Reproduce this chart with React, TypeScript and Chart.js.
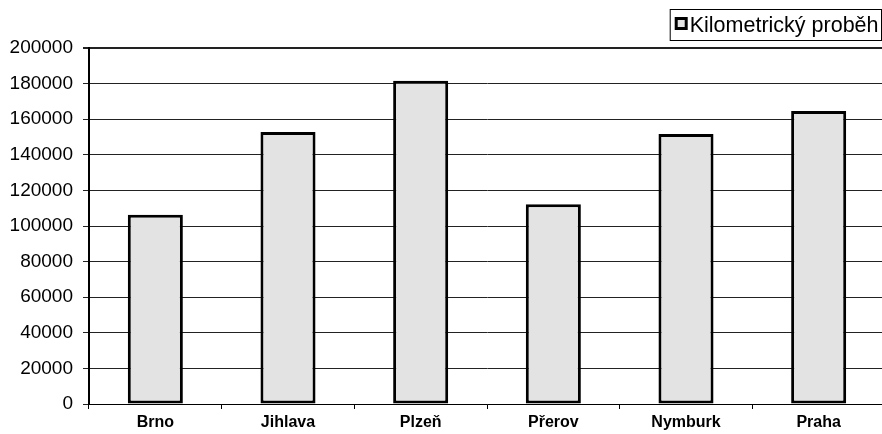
import { useEffect, useRef } from "react";
import { Chart, registerables } from "chart.js";

Chart.register(...registerables);

// Mileage per depot
const cities = ["Brno", "Jihlava", "Plzeň", "Přerov", "Nymburk", "Praha"];
const mileage = [106300, 152800, 181600, 112200, 151700, 164600];
const seriesLabel = "Kilometrický proběh";
const yMin = 0;
const yMax = 200000;
const yStep = 20000;

const FONT = '"Liberation Sans", Arial, Helvetica, sans-serif';
const BAR_FILL = "#e3e3e3";

// Boxed legend in the top-right corner, drawn from the dataset itself
const boxedLegend = {
  id: "boxedLegend",
  afterDraw(chart: any) {
    const ctx = chart.ctx as CanvasRenderingContext2D;
    const ds = chart.data.datasets[0];
    ctx.save();
    ctx.font = `21.5px ${FONT}`;
    const text = String(ds.label);
    const tw = ctx.measureText(text).width;
    const boxRight = 881.5;
    const boxTop = 9.5;
    const boxBottom = 40.5;
    const textX = boxRight - 3 - tw;
    const markSize = 10;
    const markX = textX - 3.5 - markSize;
    const markY = 18.5;
    const boxLeft = markX - 6;

    ctx.fillStyle = "#ffffff";
    ctx.fillRect(boxLeft, boxTop, boxRight - boxLeft, boxBottom - boxTop);
    ctx.strokeStyle = "#000";
    ctx.lineWidth = 1;
    ctx.strokeRect(boxLeft, boxTop, boxRight - boxLeft, boxBottom - boxTop);

    ctx.fillStyle = ds.backgroundColor;
    ctx.fillRect(markX, markY, markSize, markSize);
    ctx.lineWidth = 3;
    ctx.strokeStyle = ds.borderColor;
    ctx.strokeRect(markX, markY, markSize, markSize);

    ctx.fillStyle = "#000";
    ctx.textBaseline = "middle";
    ctx.textAlign = "left";
    ctx.fillText(text, textX, (boxTop + boxBottom) / 2 + 1);
    ctx.restore();
  },
};

export default function App() {
  const canvasRef = useRef<HTMLCanvasElement | null>(null);

  useEffect(() => {
    const canvas = canvasRef.current;
    if (!canvas) return;
    const chart = new Chart(canvas, {
      type: "bar",
      data: {
        labels: cities,
        datasets: [
          {
            label: seriesLabel,
            data: mileage,
            backgroundColor: BAR_FILL,
            borderColor: "#000",
            borderWidth: 3,
            borderSkipped: false,
            barPercentage: 0.415,
            categoryPercentage: 1,
          },
        ],
      },
      options: {
        responsive: false,
        animation: false,
        devicePixelRatio: 1,
        layout: { padding: { top: 48, right: 1, left: 0, bottom: 0 } },
        plugins: {
          legend: { display: false },
          tooltip: { enabled: false },
          title: { display: false },
        },
        scales: {
          x: {
            afterFit(scale: any) {
              scale.height = 30;
            },
            grid: {
              display: true,
              drawOnChartArea: false,
              drawTicks: true,
              tickLength: 5,
              color: "#000",
              lineWidth: 1,
            },
            border: { display: true, color: "#000", width: 1 },
            ticks: {
              color: "#000",
              padding: 4,
              maxRotation: 0,
              font: { family: FONT, size: 16, weight: "bold" },
            },
          },
          y: {
            min: yMin,
            max: yMax,
            afterFit(scale: any) {
              scale.width = 89;
            },
            grid: {
              color: "#222",
              lineWidth: (ctx: any) => (ctx.tick && ctx.tick.value === yMax ? 2 : 1),
              tickLength: 6,
              drawTicks: true,
            },
            border: { display: true, color: "#000", width: 2 },
            ticks: {
              stepSize: yStep,
              color: "#000",
              padding: 10,
              font: { family: FONT, size: 19 },
              callback: (v: any) => String(v),
            },
          },
        },
      },
      plugins: [boxedLegend],
    });
    return () => chart.destroy();
  }, []);

  return (
    <div
      style={{
        position: "fixed",
        left: 0,
        top: 0,
        width: 882,
        height: 434,
        overflow: "hidden",
        background: "#fff",
      }}
    >
      <canvas ref={canvasRef} width={886} height={434} style={{ display: "block" }} />
    </div>
  );
}
